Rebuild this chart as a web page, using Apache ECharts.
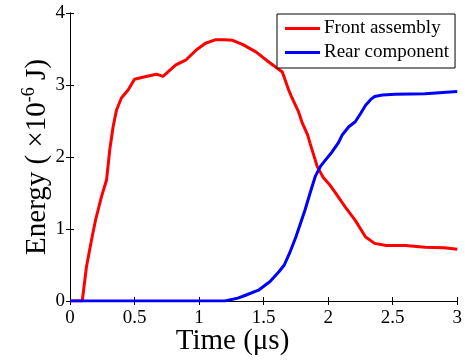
<!DOCTYPE html>
<html>
<head>
<meta charset="utf-8">
<script src="https://cdn.jsdelivr.net/npm/echarts@6/dist/echarts.min.js"></script>
<style>html,body{margin:0;padding:0;background:#fff}#c{width:465px;height:362px}</style>
</head>
<body>
<div id="c"></div>
<script>
var seriesNames = ['Front assembly', 'Rear component'];
var frontTime = [0, 0.095, 0.128, 0.167, 0.198, 0.244, 0.283, 0.308, 0.334, 0.36, 0.398, 0.45, 0.50, 0.58, 0.67, 0.72, 0.82, 0.9, 0.98, 1.05, 1.13, 1.2, 1.26, 1.34, 1.44, 1.54, 1.645, 1.69, 1.72, 1.77, 1.80, 1.84, 1.86, 1.915, 1.96, 2.005, 2.05, 2.13, 2.21, 2.29, 2.36, 2.45, 2.60, 2.75, 2.9, 3.0];
var frontEnergy = [0, 0, 0.48, 0.85, 1.125, 1.45, 1.68, 2.10, 2.42, 2.65, 2.82, 2.93, 3.08, 3.115, 3.15, 3.12, 3.28, 3.35, 3.49, 3.58, 3.63, 3.63, 3.62, 3.56, 3.46, 3.32, 3.18, 2.95, 2.82, 2.63, 2.47, 2.31, 2.19, 1.87, 1.72, 1.63, 1.52, 1.31, 1.12, 0.89, 0.80, 0.77, 0.77, 0.745, 0.74, 0.72];
var rearTime = [0, 1.2, 1.3, 1.36, 1.46, 1.55, 1.62, 1.66, 1.70, 1.75, 1.82, 1.86, 1.90, 1.94, 1.98, 2.03, 2.08, 2.11, 2.16, 2.21, 2.25, 2.29, 2.33, 2.36, 2.42, 2.52, 2.75, 3.0];
var rearEnergy = [0, 0, 0.04, 0.08, 0.15, 0.27, 0.41, 0.5, 0.66, 0.89, 1.26, 1.5, 1.73, 1.87, 1.96, 2.07, 2.2, 2.31, 2.42, 2.49, 2.6, 2.72, 2.8, 2.84, 2.86, 2.87, 2.88, 2.91];
var xTicks = [0, 0.5, 1, 1.5, 2, 2.5, 3];
var yTicks = [0, 1, 2, 3, 4];
var xTitle = 'Time (μs)';
var yTitleMain = 'Energy ( ×10';
var yTitleSup = '-6';
var yTitleEnd = ' J)';

function zip(a, b) { return a.map(function (v, i) { return [v, b[i]]; }); }
var FONT = '"Liberation Serif", "Times New Roman", serif';

var chart = echarts.init(document.getElementById('c'), null, { renderer: 'canvas' });
var axisCommon = {
  type: 'value',
  axisLine: { show: true, lineStyle: { color: '#000', width: 1 } },
  axisTick: { show: true, inside: true, length: 4, lineStyle: { color: '#000' } },
  splitLine: { show: false }
};
chart.setOption({
  animation: false,
  backgroundColor: '#fff',
  grid: { left: 70, right: 5, top: 13, bottom: 61 },
  xAxis: [
    Object.assign({}, axisCommon, {
      min: xTicks[0], max: xTicks[xTicks.length - 1], interval: 0.5,
      axisLabel: { color: '#000', fontFamily: FONT, fontSize: 19, margin: 8,
        formatter: function (v) { return String(v); } }
    }),
    Object.assign({}, axisCommon, {
      position: 'top', min: xTicks[0], max: xTicks[xTicks.length - 1], interval: 0.5,
      axisLabel: { show: false }
    })
  ],
  yAxis: [
    Object.assign({}, axisCommon, {
      min: yTicks[0], max: yTicks[yTicks.length - 1], interval: 1,
      axisLabel: { color: '#000', fontFamily: FONT, fontSize: 19, margin: 5 }
    }),
    Object.assign({}, axisCommon, {
      position: 'right', min: yTicks[0], max: yTicks[yTicks.length - 1], interval: 1,
      axisLabel: { show: false }
    })
  ],
  legend: {
    orient: 'vertical',
    left: 277, top: 14,
    width: 182,
    padding: [5, 6, 6, 8],
    itemGap: 5,
    itemWidth: 35, itemHeight: 3,
    icon: 'rect',
    borderColor: '#000', borderWidth: 1,
    backgroundColor: '#fff',
    textStyle: { fontFamily: FONT, fontSize: 19, color: '#000', lineHeight: 19, padding: [0, 0, 0, -1] },
    data: seriesNames
  },
  series: [
    { name: seriesNames[0], type: 'line', data: zip(frontTime, frontEnergy), showSymbol: false,
      lineStyle: { color: '#ff0000', width: 3 }, itemStyle: { color: '#ff0000' }, z: 2 },
    { name: seriesNames[1], type: 'line', data: zip(rearTime, rearEnergy), showSymbol: false,
      lineStyle: { color: '#0000ff', width: 3 }, itemStyle: { color: '#0000ff' }, z: 3 }
  ],
  graphic: [
    { type: 'text', left: 'center', x: 0, top: 327,
      style: { text: xTitle, font: '29px ' + FONT, fill: '#000' } },
    { type: 'text', x: 36, y: 157, rotation: Math.PI / 2,
      style: {
        text: '{m|' + yTitleMain + '}{s|' + yTitleSup + '}{m|' + yTitleEnd + '}',
        align: 'center', verticalAlign: 'middle',
        rich: {
          m: { fontFamily: FONT, fontSize: 29, lineHeight: 32, fill: '#000', verticalAlign: 'bottom' },
          s: { fontFamily: FONT, fontSize: 18, lineHeight: 32, fill: '#000', verticalAlign: 'top' }
        }
      } }
  ]
});
</script>
</body>
</html>
